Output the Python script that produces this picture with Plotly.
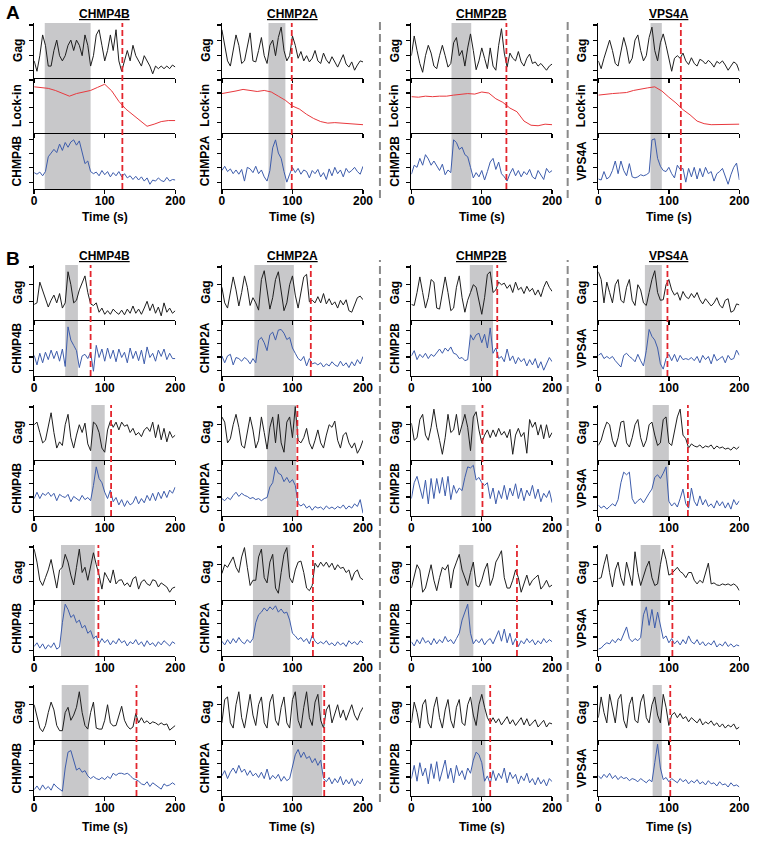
import numpy as np
import plotly.graph_objects as go

# ---------------- DATA ----------------
proteins = ["CHMP4B", "CHMP2A", "CHMP2B", "VPS4A"]
x_ticks = [0, 100, 200]
x_ticklabels = ["0", "100", "200"]

# Panel A (Gag / Lock-in / protein), values on 0-10 arbitrary scale
a1_gag = [3,1,4,8,6,2,2,5,7,4,3,4,6,7,5,7,6,4,8,6,2,4,8,9,6,3,5,8,5,9,3,1,3,5,3,6,4,3,2,4,3,2,0.5,2,1.5,2,1.5,2,1.5,2.2,1.8]
a1_lock = [8.6,8.4,8.3,7.9,7.4,6.8,7.3,7.6,7.9,8.5,9.1,7.8,5.8,4.3,3.2,2.0,1.0,1.4,1.9,2.1,2.1]
a1_rec = [2.8,2.5,2.9,2.2,3.0,5.8,6.5,7.2,6.6,8.2,7.0,8.5,7.6,8.6,9.0,8.0,8.8,6.5,4.5,5.0,3.0,2.6,2.9,2.2,3.2,2.4,3.0,2.0,2.8,2.2,3.0,2.0,2.6,1.8,2.2,1.5,2.1,1.4,2.0,1.2,1.8,0.6,1.4,1.2,1.8,1.3,1.1,1.9,1.2,1.5,1.4]

a2_gag = [9,6,3,2,5,8,6,2.5,3,6,8.4,3,2.8,5,7.5,4,2.5,6,7,4,7.5,9.5,5,3,4,7.8,6,3.5,4.8,3,4,2.8,3.5,5,3,2.5,4.5,3.2,2.5,3.8,2.8,1.8,3,4.2,2.4,1.8,2.8,1.2,2.2,3,2.8]
a2_lock = [7.3,7.5,7.8,8.1,7.9,7.7,7.9,7.6,6.8,6.0,4.9,4.3,3.3,2.5,1.9,1.6,1.7,1.6,1.5,1.4,1.3]
a2_rec = [3.2,4.0,3.0,3.5,2.6,3.3,2.5,3.4,1.2,3.8,3.5,2.8,4.0,2.6,3.3,2.0,1.2,3.2,7.5,9.0,6.5,5.5,3.0,1.0,2.5,3.8,2.8,3.6,2.5,3.3,3.0,1.8,3.2,2.6,3.4,2.0,2.8,1.5,3.5,2.2,3.8,2.6,3.3,2.0,3.6,2.8,3.2,3.8,3.0,2.5,4.0]

a3_gag = [4,7.8,5,2.5,0.8,4,6,4.5,2,1.5,4,6,4,1.8,2.5,6.5,7.5,4,5,2,5.5,8.2,5,1.3,3,5.5,3.5,1.5,5.5,2,1.2,6,9.2,4.5,1.8,4.5,3.5,3,4.8,2.8,2,3.5,4.3,2.5,2.8,2,2.5,1.8,1.2,2,2.4]
a3_lock = [6.7,6.6,6.8,6.7,6.8,6.8,7.0,7.1,7.3,7.2,7.6,7.4,6.3,5.6,4.5,3.8,2.0,1.2,1.1,1.4,1.3]
a3_rec = [2.5,4.2,3.8,5.5,4.2,6.2,5.4,4.2,5.0,4.0,3.2,4.4,2.4,3.3,2.8,9.0,8.5,7.2,7.6,6.2,5.8,3.8,1.8,2.8,2.0,3.2,1.4,3.0,4.8,5.5,3.4,4.8,2.6,2.0,1.2,2.6,3.6,2.2,3.2,2.0,3.0,2.4,3.4,2.0,1.6,3.2,2.4,1.5,3.6,2.8,3.2]

a4_gag = [3,1.5,3.5,5.5,7,5,2.5,2,5,7.5,5.5,2.5,3.5,7,8,5,3,4,7.5,9.5,5,3,6.5,8.2,6,3.5,1.0,3.5,4,3.5,4.5,3,2.3,3.6,2.5,2.0,3.3,3.0,2.4,3.1,2.6,1.8,2.9,2.5,3.0,2.2,1.2,2.0,2.8,2.4,1.0]
a4_lock = [7.0,7.2,7.3,7.4,7.5,7.9,8.2,8.4,8.6,7.8,6.6,5.5,4.2,3.2,2.0,1.5,1.3,1.3,1.4,1.4,1.4]
a4_rec = [1.6,1.4,3.0,1.6,2.0,3.2,5.0,2.6,5.0,3.2,2.2,4.5,2.0,1.8,2.0,2.4,2.2,2.4,2.8,9.0,9.2,5.5,4.0,3.2,3.0,3.8,2.6,1.8,4.2,3.4,3.6,1.0,3.6,2.0,3.8,1.6,3.6,2.0,3.8,2.6,3.0,1.2,2.6,3.0,3.6,2.0,0.6,2.4,3.8,4.6,1.4]

a_box_start = [15, 66, 57, 74]
a_box_end = [80, 90, 85, 90]
a_red = [125, 99, 135, 117]

# Panel B: rows 1-4, columns CHMP4B, CHMP2A, CHMP2B, VPS4A
b11_gag = [2.7,3.0,7.0,5.5,4.0,2.2,3.5,4.5,3.0,4.8,2.0,3.0,9.0,6.5,3.0,3.5,5.5,7.0,8.2,5.0,2.8,2.5,3.0,1.2,2.0,0.8,1.5,0.8,1.8,1.2,0.8,1.6,0.7,1.8,1.0,2.4,1.0,1.8,0.8,2.0,3.3,1.5,2.8,1.0,2.2,0.5,3.0,1.2,2.0,1.0,1.5]
b11_rec = [3.6,1.8,4.0,2.2,4.2,2.8,4.6,3.0,4.4,2.5,4.8,1.5,9.0,6.5,5.5,4.5,1.3,3.5,3.8,3.0,4.2,0.6,5.5,3.2,4.8,2.5,5.0,3.0,4.6,2.4,4.8,3.2,4.2,2.2,5.0,3.0,4.4,2.6,4.6,2.0,5.2,3.2,4.0,2.5,4.6,3.4,4.8,2.8,4.0,3.0,3.0]
b12_gag = [6.0,3.0,2.0,5.0,8.0,5.5,2.4,5.0,8.2,6.0,2.5,4.0,3.0,1.6,7.5,9.2,5.0,1.8,4.0,7.5,9.0,5.5,1.5,3.0,6.5,8.2,4.5,2.0,5.0,8.0,8.5,3.2,3.5,3.0,4.2,3.0,4.8,2.8,3.8,2.6,3.2,2.0,3.5,2.6,3.6,1.5,1.2,2.8,4.0,4.3,3.6]
b12_rec = [3.5,2.2,3.5,3.8,1.8,3.2,3.0,2.5,3.2,2.8,2.0,3.0,2.2,6.5,7.0,6.0,4.5,7.5,8.0,6.5,8.4,8.5,7.8,6.6,7.0,5.0,4.0,3.0,2.6,3.4,1.6,3.0,2.0,2.2,1.8,2.2,1.4,2.0,1.6,2.4,1.8,1.5,2.5,1.6,2.2,1.3,2.4,1.6,2.8,2.0,3.4]
b13_gag = [2.7,2.5,5.0,8.0,5.0,2.0,4.0,7.5,7.0,2.0,1.8,5.0,8.0,5.0,1.5,2.0,6.0,8.2,4.0,1.2,3.5,5.0,6.5,6.0,3.0,0.8,4.0,8.5,9.0,5.0,5.5,7.0,6.5,6.8,5.8,6.5,5.0,7.0,5.5,6.0,4.8,6.2,5.2,5.8,4.5,5.5,4.2,6.0,7.2,6.0,5.2]
b13_rec = [3.5,4.5,2.8,3.8,3.2,4.0,3.0,3.8,3.4,4.2,4.8,4.0,5.0,4.4,5.2,4.0,3.8,3.0,3.2,2.6,2.8,7.5,6.5,7.5,7.8,6.0,7.6,5.0,8.8,4.0,5.0,3.0,3.4,2.4,4.8,2.6,3.5,2.0,3.2,2.4,3.0,1.6,2.8,1.8,3.0,1.2,2.4,0.8,2.0,3.2,2.4]
b14_gag = [9.0,7.5,3.0,7.0,5.0,3.0,6.5,7.5,3.5,3.0,6.0,7.5,3.5,2.5,6.5,5.5,3.0,2.5,5.0,7.5,9.2,5.0,3.5,3.6,6.5,7.5,5.5,4.5,5.0,3.5,5.2,4.2,3.8,4.8,4.0,5.0,3.6,2.8,3.8,3.0,2.4,3.0,4.0,2.6,2.0,3.5,3.8,1.2,1.5,2.8,2.6]
b14_rec = [3.6,4.0,3.0,3.4,3.0,3.4,2.6,2.0,1.4,3.6,4.0,3.4,3.0,2.4,3.8,2.6,1.6,4.5,8.5,7.2,6.5,5.0,2.0,1.0,3.0,3.8,2.6,3.8,2.4,3.6,2.8,3.0,2.8,3.2,2.6,3.4,2.2,3.6,2.8,3.4,2.0,3.8,2.6,3.0,3.4,2.2,3.6,2.8,3.0,4.6,3.6]

b21_gag = [6.5,7.0,5.0,3.0,3.5,6.0,8.8,5.0,2.0,3.2,2.5,6.5,8.5,4.0,2.0,4.5,6.5,5.0,6.8,2.8,1.5,7.0,6.5,5.0,2.0,1.2,5.5,7.2,6.0,7.0,5.5,7.0,6.2,6.5,5.0,5.8,4.5,5.0,4.2,5.5,6.0,5.2,7.0,4.0,6.5,3.6,5.8,3.2,5.2,4.0,4.5]
b21_rec = [3.0,4.2,3.0,4.0,3.6,4.2,3.4,4.0,2.6,3.8,3.4,3.2,3.8,2.4,3.4,3.0,2.6,3.6,2.8,3.2,2.6,5.5,9.0,6.8,6.0,4.2,3.0,4.6,2.4,3.2,1.8,2.8,1.5,2.6,1.8,2.2,3.4,2.0,3.0,2.2,3.6,2.6,4.0,2.6,4.2,3.0,4.4,3.2,4.6,4.0,5.2]
b22_gag = [8.0,7.0,3.0,3.8,6.5,8.5,6.0,2.5,2.0,5.0,8.0,5.5,2.0,3.5,8.0,5.0,1.8,6.0,8.0,3.0,8.5,3.0,1.2,7.0,8.0,4.0,10.0,3.5,3.0,4.0,5.8,3.0,1.8,3.5,5.5,3.0,2.0,4.5,6.5,6.0,7.2,3.5,2.0,4.5,5.0,3.0,2.0,3.0,1.0,2.0,3.5]
b22_rec = [3.0,2.6,3.2,2.8,3.6,4.2,3.4,4.0,3.6,3.4,3.0,3.2,2.8,3.0,2.6,3.0,3.2,5.2,6.0,9.0,7.8,7.5,6.2,7.0,6.0,6.6,5.5,2.0,1.6,2.0,1.2,1.6,0.8,1.5,1.2,1.4,0.9,1.6,1.1,1.4,1.0,1.5,1.2,1.8,1.0,1.6,1.2,2.0,1.5,2.8,0.2]
b23_gag = [6.8,3.5,4.0,7.5,8.5,4.5,3.5,6.0,9.5,6.0,3.5,0.8,4.0,8.5,5.0,5.5,8.5,4.5,6.5,8.5,6.0,1.5,8.0,9.0,5.5,3.0,4.5,5.5,4.0,5.5,4.2,5.8,4.5,5.2,4.0,5.6,0.8,4.5,5.8,4.2,5.0,1.0,7.5,6.0,7.0,4.5,6.5,3.8,6.5,4.0,5.0]
b23_rec = [3.0,6.0,7.2,5.0,3.0,6.5,2.0,6.8,3.0,6.8,4.0,7.0,3.5,7.2,2.8,5.5,4.0,5.0,4.5,7.0,9.0,8.8,9.3,6.5,7.0,6.0,5.5,6.0,3.0,5.0,2.0,4.5,3.0,5.5,2.8,5.0,3.5,5.8,3.0,5.0,2.6,4.6,3.5,5.5,3.0,4.8,2.4,4.0,3.2,4.5,2.2]
b24_gag = [2.5,3.5,5.5,7.0,6.5,3.5,2.2,4.0,7.0,7.2,3.0,2.2,4.0,6.5,7.5,4.0,2.2,3.5,6.5,7.0,4.5,2.5,3.0,7.5,8.0,3.0,2.5,5.0,8.0,9.5,4.5,3.8,2.0,2.8,2.4,2.2,2.6,2.0,2.4,2.2,2.6,1.8,2.4,2.0,2.2,1.8,2.0,1.6,2.2,1.8,2.3]
b24_rec = [1.8,1.2,1.6,1.0,1.5,2.0,1.6,2.8,6.0,8.0,7.5,8.0,3.0,2.0,2.6,3.0,2.2,3.2,4.0,4.8,7.0,7.5,6.8,7.8,9.0,2.5,1.6,2.2,1.4,3.0,4.8,2.0,1.2,5.0,2.5,1.6,3.5,1.8,2.8,1.5,2.0,1.2,2.6,1.6,2.4,1.2,2.2,1.0,2.8,1.8,2.6]

b31_gag = [9.5,7.0,3.5,2.5,4.0,5.5,7.5,5.0,2.0,5.5,6.0,8.5,7.0,4.5,2.6,6.0,9.5,5.0,6.0,3.5,6.5,8.8,6.5,4.5,1.8,5.0,4.0,3.0,5.5,2.8,3.5,3.6,2.5,3.0,2.2,3.8,4.2,1.8,3.2,3.6,2.8,2.5,3.6,3.4,2.2,3.0,2.6,2.2,1.2,2.0,2.2]
b31_rec = [1.5,2.2,1.2,2.0,1.0,1.8,1.3,2.2,1.0,1.4,6.0,9.5,8.5,7.0,7.5,6.0,6.5,5.0,5.5,4.0,4.5,3.0,3.5,2.0,3.0,2.2,2.8,1.8,2.6,2.0,3.0,2.2,2.6,1.6,2.4,2.0,2.8,1.8,2.4,1.5,2.6,1.8,2.2,1.5,2.4,1.8,2.6,2.0,1.6,2.4,2.0]
b32_gag = [4.8,6.5,6.0,7.0,8.0,6.0,5.0,8.0,9.8,6.0,2.5,3.5,3.5,8.0,9.5,4.0,3.0,7.0,8.5,2.0,1.0,5.0,8.5,9.8,4.0,3.0,5.5,7.0,7.2,5.0,2.0,1.5,2.5,6.8,6.0,7.0,6.2,7.0,6.0,6.8,5.5,6.5,5.8,6.0,5.0,5.5,3.5,5.0,5.5,4.0,3.6]
b32_rec = [2.5,1.8,2.8,2.0,3.0,2.2,3.2,2.4,2.0,2.8,2.2,3.0,6.0,7.5,8.0,8.8,8.2,9.0,8.5,9.2,8.0,8.6,7.8,8.0,6.5,4.0,3.5,2.8,3.2,2.4,3.0,2.0,3.6,2.5,2.0,2.4,2.0,2.6,1.8,2.2,1.6,2.4,1.8,2.2,1.5,2.6,2.0,2.4,1.8,2.6,2.2]
b33_gag = [2.0,4.0,6.5,5.5,1.2,2.0,4.5,6.5,3.5,1.5,4.0,6.0,5.5,6.5,2.0,5.5,7.0,8.5,5.5,4.0,2.5,5.0,7.0,2.5,2.2,3.5,5.5,6.8,2.5,4.0,7.0,8.0,9.2,4.0,2.0,2.0,3.5,5.5,4.0,1.2,3.0,4.5,2.5,3.5,4.0,4.5,1.8,2.5,3.5,2.2,2.6]
b33_rec = [2.4,1.6,2.8,2.0,3.2,2.2,2.6,1.8,3.0,2.0,2.8,2.2,3.4,2.4,2.8,2.0,3.0,4.0,6.5,8.0,9.5,4.0,2.0,2.8,2.2,3.0,1.8,2.6,3.0,2.0,3.4,4.5,2.5,4.8,2.2,4.0,1.8,3.0,1.5,2.6,2.0,3.0,2.2,2.8,1.8,2.6,2.0,3.0,2.2,2.8,2.4]
b34_gag = [3.8,4.0,6.5,8.5,5.0,2.2,5.5,7.0,4.0,2.5,7.0,4.5,2.5,9.0,5.0,2.5,4.5,6.0,7.2,4.0,2.5,2.8,6.5,9.5,7.5,4.5,4.8,5.5,6.0,5.2,4.8,4.0,5.0,5.0,3.5,2.8,3.5,3.0,5.0,6.8,2.8,3.0,2.6,2.5,2.8,2.6,2.8,2.5,2.8,2.4,1.5]
b34_rec = [1.0,1.2,1.8,2.2,2.0,2.8,2.2,3.0,2.6,4.0,5.2,3.0,2.4,3.0,2.6,3.2,7.5,9.0,5.5,8.5,5.0,8.0,5.5,3.0,3.5,2.2,3.0,2.0,2.6,1.8,2.8,2.0,3.5,2.4,2.0,2.8,1.8,2.4,1.6,2.2,1.8,2.6,1.4,2.0,1.6,2.4,1.5,2.0,1.4,1.8,1.6]

b41_gag = [6.5,4.5,2.0,1.3,2.5,5.0,7.0,5.5,2.5,1.5,1.5,5.0,6.0,3.5,4.5,6.0,9.0,5.0,2.5,1.8,5.0,7.0,2.0,1.8,1.8,3.5,6.5,3.0,2.4,2.5,4.5,6.2,3.5,2.4,1.8,2.2,4.8,3.0,4.0,3.0,3.4,2.8,3.2,3.0,2.6,3.0,2.6,2.8,1.6,2.0,2.5]
b41_rec = [0.9,1.6,0.8,1.8,1.0,1.5,0.8,2.0,1.4,1.0,0.6,5.0,8.0,8.3,6.5,4.6,5.0,4.2,4.5,3.5,3.0,3.4,3.0,2.8,3.2,2.8,3.4,3.0,4.0,3.6,4.0,4.0,3.8,4.0,3.6,3.0,2.8,2.5,2.0,1.8,2.4,1.5,2.2,1.8,1.4,1.0,2.0,1.6,1.8,2.2,1.8]
b42_gag = [3.0,7.5,8.0,3.0,2.0,6.5,9.0,4.0,2.0,5.5,8.5,4.5,2.5,6.5,8.0,3.0,2.0,7.0,8.5,3.5,2.5,6.0,8.0,3.0,2.0,7.5,9.0,3.5,2.0,6.0,9.0,4.0,2.5,7.0,8.5,3.5,2.0,5.5,6.5,3.0,5.0,6.5,4.0,5.5,3.5,5.0,6.5,4.5,3.5,5.0,6.0]
b42_rec = [3.5,4.5,3.0,4.2,5.0,4.0,5.5,4.2,4.8,3.6,4.5,3.5,4.0,3.2,4.2,3.0,4.8,2.8,3.6,3.0,3.8,2.5,3.4,2.6,3.0,5.0,7.5,8.5,7.0,8.0,6.8,7.2,6.0,6.8,5.5,6.5,3.0,2.4,3.2,2.0,3.0,2.2,3.4,1.8,2.8,2.0,3.0,1.6,2.6,2.0,3.0]
b43_gag = [3.0,7.0,5.0,2.0,6.5,7.5,3.0,2.0,6.0,8.0,4.0,2.0,5.5,7.5,3.5,2.0,6.0,7.5,3.0,2.5,6.5,8.0,4.5,2.5,6.5,8.5,6.0,4.0,3.0,4.0,3.0,3.8,2.6,3.4,4.2,2.8,3.6,2.5,3.2,4.0,2.6,3.8,2.4,3.0,3.6,2.2,2.8,3.5,2.2,3.0,2.8]
b43_rec = [3.0,5.5,2.5,6.0,3.5,5.0,2.0,5.8,3.0,6.2,2.5,4.8,6.5,3.0,5.0,2.2,5.5,3.5,4.5,2.8,5.0,4.0,6.5,8.0,7.5,6.0,2.5,3.5,2.0,4.5,2.6,4.0,3.0,5.0,2.2,4.2,3.0,3.8,2.0,3.5,2.6,4.0,2.2,3.0,1.8,3.2,2.0,2.8,1.6,3.0,2.4]
b44_gag = [4.0,8.0,5.0,3.0,8.5,6.0,3.0,7.5,8.5,3.5,2.0,6.5,8.0,3.5,3.0,7.0,8.5,4.0,3.0,6.5,8.0,4.5,3.0,8.5,6.0,2.5,4.5,5.0,4.0,4.8,3.8,4.2,3.2,4.0,3.4,3.0,3.8,2.6,3.2,2.8,3.4,2.5,3.0,2.2,2.8,2.0,2.6,2.2,2.8,1.8,2.2]
b44_rec = [3.5,3.0,3.8,3.2,4.0,3.0,3.6,2.8,3.4,3.0,3.2,2.6,3.0,2.8,2.4,3.0,2.6,2.2,2.8,2.4,6.0,9.5,5.0,2.8,3.2,2.4,3.0,2.6,2.2,3.0,2.4,2.8,2.0,2.6,2.2,2.8,2.0,2.4,1.8,2.6,2.0,2.2,1.6,2.4,1.8,2.0,1.4,2.2,1.6,1.8,1.4]

b_gag = [[b11_gag, b12_gag, b13_gag, b14_gag], [b21_gag, b22_gag, b23_gag, b24_gag],
         [b31_gag, b32_gag, b33_gag, b34_gag], [b41_gag, b42_gag, b43_gag, b44_gag]]
b_rec = [[b11_rec, b12_rec, b13_rec, b14_rec], [b21_rec, b22_rec, b23_rec, b24_rec],
         [b31_rec, b32_rec, b33_rec, b34_rec], [b41_rec, b42_rec, b43_rec, b44_rec]]
b_box_start = [[44, 46, 83, 66], [81, 64, 71, 77], [38, 44, 68, 60], [39, 100, 86, 77]]
b_box_end = [[62, 102, 116, 90], [100, 105, 91, 100], [86, 97, 88, 88], [77, 142, 105, 90]]
b_red = [[80, 126, 122, 98], [109, 107, 101, 127], [91, 129, 150, 105], [145, 145, 112, 102]]

# ---------------- LAYOUT / STYLE ----------------
W, H = 760, 841
FONT = "Liberation Sans, Arial, Helvetica, sans-serif"
col_x0 = [31.7, 222.7, 415.5, 605.7]
col_x1 = [175.3, 366.3, 558.7, 749.2]
GAG_C = "#1e1e1e"
LOCK_C = "#e8383d"
REC_C = "#3d5cab"
BOX_C = "rgb(200,200,202)"
RED_C = "#e3262e"

fig = go.Figure()
layout = dict(width=W, height=H, margin=dict(l=0, r=0, t=0, b=0),
              paper_bgcolor="white", plot_bgcolor="rgba(0,0,0,0)",
              showlegend=False, hovermode=False)
shapes, annotations = [], []
ax_n = [0]

def py(p):
    return 1 - p / H

def add_panel(col, top, bot, vals, color, ytitle, ticks, show_labels):
    ax_n[0] += 1
    n = ax_n[0]
    xs = "" if n == 1 else str(n)
    layout["xaxis" + xs] = dict(domain=[col_x0[col] / W, col_x1[col] / W], anchor="y" + xs,
                                range=[0, 200], showline=True, linecolor="black", linewidth=1.4,
                                ticks="outside", ticklen=4, tickwidth=1.4, tickcolor="black",
                                tickvals=x_ticks, ticktext=x_ticklabels, showticklabels=show_labels,
                                ticklabelstandoff=-4,
                                tickfont=dict(family=FONT, size=12, color="black", weight="bold"),
                                showgrid=False, zeroline=False, fixedrange=True)
    layout["yaxis" + xs] = dict(domain=[py(bot), py(top)], anchor="x" + xs,
                                range=[-0.3, 10.3], showline=True, linecolor="black", linewidth=1.2,
                                ticks="outside", ticklen=4, tickwidth=1.2, tickcolor="black",
                                tickvals=ticks, showticklabels=False,
                                showgrid=False, zeroline=False, fixedrange=True)
    t = np.linspace(0, 200, len(vals))
    fig.add_trace(go.Scatter(x=t, y=vals, mode="lines", line=dict(color=color, width=1),
                             xaxis="x" + xs, yaxis="y" + xs, hoverinfo="skip"))
    annotations.append(dict(text="<b>%s</b>" % ytitle, x=(col_x0[col] - 17) / W, y=py((top + bot) / 2),
                            xref="paper", yref="paper", textangle=-90, showarrow=False,
                            xanchor="center", yanchor="middle",
                            font=dict(family=FONT, size=12, color="black")))
    return "x" + xs

def add_marks(xref, top, bot, b0, b1, red):
    shapes.append(dict(type="rect", xref=xref, yref="paper", x0=b0, x1=b1, y0=py(bot), y1=py(top),
                       fillcolor=BOX_C, line=dict(width=0), layer="below"))
    shapes.append(dict(type="line", xref=xref, yref="paper", x0=red, x1=red, y0=py(bot), y1=py(top),
                       line=dict(color=RED_C, width=1.8, dash="6px,3px"), layer="above"))

def col_title(col, y):
    annotations.append(dict(text="<b><u>%s</u></b>" % proteins[col], x=(col_x0[col] + col_x1[col]) / 2 / W,
                            y=py(y), xref="paper", yref="paper", showarrow=False,
                            xanchor="center", yanchor="middle",
                            font=dict(family=FONT, size=12, color="black")))

def time_title(col, y):
    annotations.append(dict(text="<b>Time (s)</b>", x=(col_x0[col] + col_x1[col]) / 2 / W,
                            y=py(y), xref="paper", yref="paper", showarrow=False,
                            xanchor="center", yanchor="middle",
                            font=dict(family=FONT, size=12, color="black")))

# ---- Panel A ----
a_gag = [a1_gag, a2_gag, a3_gag, a4_gag]
a_lock = [a1_lock, a2_lock, a3_lock, a4_lock]
a_rec = [a1_rec, a2_rec, a3_rec, a4_rec]
A_TOP, A_M1, A_M2, A_BOT = 23, 78, 133, 189
for c in range(4):
    xr = add_panel(c, A_TOP, A_M1, a_gag[c], GAG_C, "Gag", [1.2, 4.1, 7.0, 9.9], False)
    add_panel(c, A_M1, A_M2, a_lock[c], LOCK_C, "Lock-in", [1.8, 4.6, 7.4, 9.9], False)
    add_panel(c, A_M2, A_BOT, a_rec[c], REC_C, proteins[c], [1.0, 3.7, 6.4, 9.1], True)
    add_marks(xr, A_TOP, A_BOT, a_box_start[c], a_box_end[c], a_red[c])
    col_title(c, 14)
    time_title(c, 217)

# ---- Panel B ----
for r in range(4):
    top = 265 + 140 * r
    mid = top + 55
    bot = top + 111
    for c in range(4):
        xr = add_panel(c, top, mid, b_gag[r][c], GAG_C, "Gag", [3.2, 6.5, 9.9], False)
        add_panel(c, mid, bot, b_rec[r][c], REC_C, proteins[c], [0.8, 3.3, 5.8, 8.3], True)
        add_marks(xr, top, bot, b_box_start[r][c], b_box_end[r][c], b_red[r][c])
        if r == 0:
            col_title(c, 256)
        if r == 3:
            time_title(c, bot + 31)

# ---- separators ----
for sx in [383.5, 574.5]:
    for (y0, y1) in [(20, 198), (260, 802)]:
        shapes.append(dict(type="line", xref="paper", yref="paper", x0=sx / W, x1=sx / W,
                           y0=py(y1), y1=py(y0), line=dict(color="#8a8a8a", width=2, dash="8px,4px")))

# ---- panel letters ----
for letter, (lx, ly) in [("A", (10, 13)), ("B", (10, 258))]:
    annotations.append(dict(text="<b>%s</b>" % letter, x=lx / W, y=py(ly), xref="paper", yref="paper",
                            showarrow=False, xanchor="center", yanchor="middle",
                            font=dict(family=FONT, size=19, color="black")))

layout["shapes"] = shapes
layout["annotations"] = annotations
fig.update_layout(**layout)
fig.write_html("out.html", config={"displayModeBar": False, "staticPlot": True},
               post_script="document.body.style.margin='0px';document.body.style.overflow='hidden';")
